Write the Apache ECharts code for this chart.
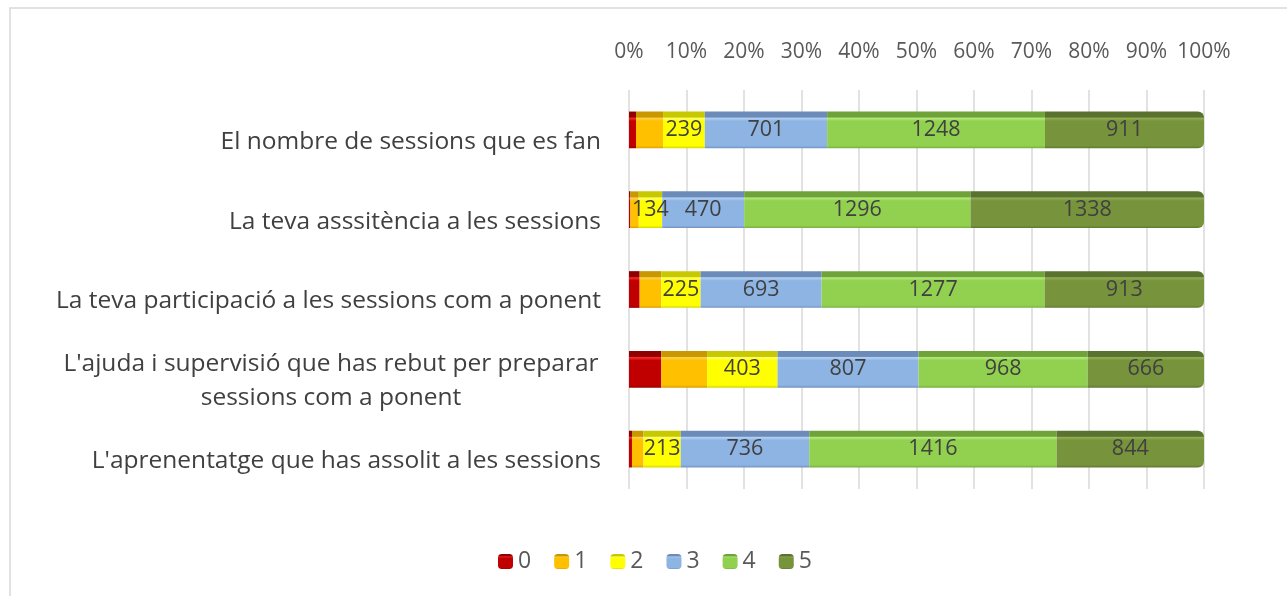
<!DOCTYPE html>
<html>
<head>
<meta charset="utf-8">
<script src="https://cdn.jsdelivr.net/npm/echarts@6/dist/echarts.min.js"></script>
<style>
  html, body { margin: 0; padding: 0; background: #fff; }
  #sessions-chart { width: 1287px; height: 596px; }
</style>
</head>
<body>
<div id="sessions-chart"></div>
<script>
const categories = [
  'El nombre de sessions que es fan',
  'La teva asssitència a les sessions',
  'La teva participació a les sessions com a ponent',
  "L'ajuda i supervisió que has rebut per preparar\nsessions com a ponent",
  "L'aprenentatge que has assolit a les sessions"
];
const seriesNames = ['0', '1', '2', '3', '4', '5'];
const score0 = [40, 8, 61, 185, 17];
const score1 = [155, 48, 124, 262, 66];
const score2 = [239, 134, 225, 403, 213];
const score3 = [701, 470, 693, 807, 736];
const score4 = [1248, 1296, 1277, 968, 1416];
const score5 = [911, 1338, 913, 666, 844];
const tickLabels = ['0%', '10%', '20%', '30%', '40%', '50%', '60%', '70%', '80%', '90%', '100%'];

const counts = [score0, score1, score2, score3, score4, score5];
// [top band, highlight, base, bottom edge]
const palette = [
  ['#8f0000', '#ff2a2a', '#c00000', '#9a0000'],
  ['#c99700', '#ffd24d', '#ffc000', '#d9a300'],
  ['#c8c800', '#ffff70', '#ffff00', '#d6d600'],
  ['#6c8bb8', '#b2d0f4', '#8eb4e3', '#7193c2'],
  ['#6fa33a', '#b4ea7c', '#92d050', '#77b03e'],
  ['#5a7130', '#8faf52', '#77933c', '#5f7832']
];

const totals = categories.map(function (c, i) {
  return counts.reduce(function (s, arr) { return s + arr[i]; }, 0);
});

const bevel = function (c) {
  return new echarts.graphic.LinearGradient(0, 0, 0, 1, [
    { offset: 0, color: c[0] },
    { offset: 0.15, color: c[0] },
    { offset: 0.18, color: c[1] },
    { offset: 0.26, color: c[2] },
    { offset: 0.93, color: c[2] },
    { offset: 1, color: c[3] }
  ]);
};

const fontFamily = '"Open Sans", "Noto Sans", sans-serif';

const chartDom = document.getElementById('sessions-chart');
const myChart = echarts.init(chartDom);

const series = counts.map(function (arr, k) {
  return {
    name: seriesNames[k],
    type: 'bar',
    stack: 'total',
    barWidth: '46%',
    itemStyle: {
      color: bevel(palette[k]),
      borderRadius: k === 5 ? [0, 6, 6, 0] : 0
    },
    label: {
      show: k >= 2,
      position: 'inside',
      color: '#404040',
      fontFamily: fontFamily,
      fontSize: 21.5,
      formatter: function (p) { return arr[p.dataIndex]; }
    },
    emphasis: { disabled: true },
    data: arr.map(function (v, i) { return v / totals[i] * 100; })
  };
});

const option = {
  animation: false,
  graphic: [
    {
      type: 'rect',
      shape: { x: 10, y: 8, width: 1290, height: 600 },
      style: { fill: 'none', stroke: '#d9d9d9', lineWidth: 1.5 },
      silent: true
    }
  ],
  legend: {
    data: seriesNames,
    bottom: 18,
    left: 493,
    itemWidth: 15,
    itemHeight: 15,
    itemGap: 23,
    textStyle: { color: '#595959', fontSize: 23, fontFamily: fontFamily }
  },
  grid: {
    left: 629,
    width: 575,
    top: 90,
    height: 399
  },
  xAxis: {
    type: 'value',
    position: 'top',
    min: 0,
    max: 100,
    interval: 10,
    axisLine: { show: false },
    axisTick: { show: false },
    splitLine: { lineStyle: { color: '#d9d9d9', width: 1.5 } },
    axisLabel: {
      margin: 27,
      color: '#595959',
      fontSize: 21,
      fontFamily: fontFamily,
      formatter: function (v) { return tickLabels[Math.round(v / 10)]; }
    }
  },
  yAxis: {
    type: 'category',
    inverse: true,
    data: categories,
    axisLine: { show: false },
    axisTick: { show: false },
    axisLabel: {
      margin: 28,
      color: '#404040',
      fontSize: 24.5,
      lineHeight: 34,
      padding: [24, 0, 0, 0],
      fontFamily: fontFamily,
      formatter: function (v) {
        if (v.indexOf('\n') < 0) return v;
        return v.split('\n').map(function (s) { return '{c|' + s + '}'; }).join('\n');
      },
      rich: {
        c: { width: 540, align: 'center', fontSize: 24.5, lineHeight: 34, color: '#404040', fontFamily: fontFamily }
      }
    }
  },
  series: series
};

option && myChart.setOption(option);
window.addEventListener('resize', function () {
  myChart.resize();
});
</script>
</body>
</html>
